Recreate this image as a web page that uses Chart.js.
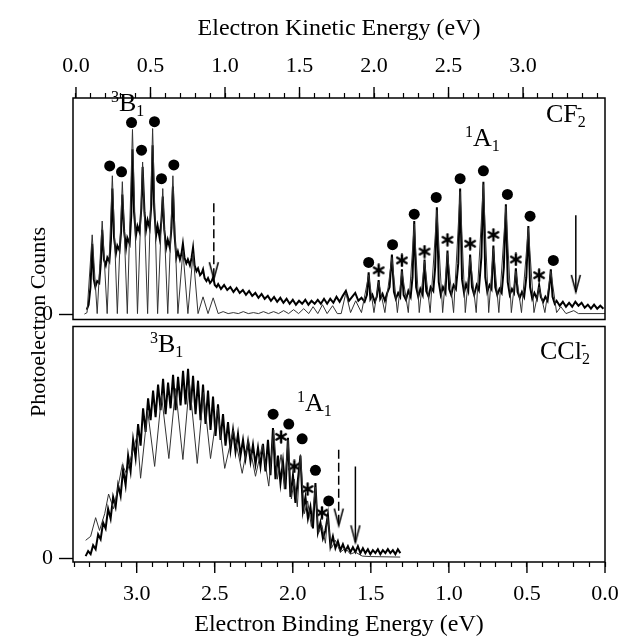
<!DOCTYPE html>
<html>
<head>
<meta charset="utf-8">
<title>CF2- and CCl2- photoelectron spectra</title>
<script src="https://cdn.jsdelivr.net/npm/chart.js@4/dist/chart.umd.min.js"></script>
<style>
  body { margin: 0; background: #fff; }
  #fig { position: relative; width: 618px; height: 639px; overflow: hidden;
         font-family: "Liberation Serif", "Times New Roman", serif; color: #000; }
  #fig canvas { position: absolute; left: 0; }
  #cf2 { top: 0; }
  #ccl2 { top: 321px; }
  .note { position: absolute; font-size: 26px; line-height: 1; white-space: nowrap; }
  .note sup, .note sub { font-size: 16px; line-height: 0; }
  .note sup { vertical-align: 9px; }
  .note sub { vertical-align: -5px; }
  .note .ion { margin-left: -9px; }
  #ytitle { position: absolute; left: -92px; top: 309px; width: 260px; height: 26px;
            line-height: 26px; font-size: 22px; text-align: center; transform: rotate(-90deg); }
</style>
</head>
<body>
<div id="fig">
  <canvas id="cf2" width="618" height="325"></canvas>
  <canvas id="ccl2" width="618" height="318"></canvas>
  <div id="ytitle">Photoelectron Counts</div>
  <div class="note" style="left:111px; top:90px"><sup>3</sup>B<sub>1</sub></div>
  <div class="note" style="left:465px; top:125px"><sup>1</sup>A<sub>1</sub></div>
  <div class="note" style="left:546px; top:101px">CF<sub>2</sub><sup class="ion">-</sup></div>
  <div class="note" style="left:150px; top:331px"><sup>3</sup>B<sub>1</sub></div>
  <div class="note" style="left:297px; top:390px"><sup>1</sup>A<sub>1</sub></div>
  <div class="note" style="left:540px; top:338px">CCl<sub>2</sub><sup class="ion">-</sup></div>
</div>
<script>
// axis ticks
const keTicks = [0.0, 0.1, 0.2, 0.3, 0.4, 0.5, 0.6, 0.7, 0.8, 0.9, 1.0, 1.1, 1.2, 1.3, 1.4, 1.5, 1.6, 1.7,
  1.8, 1.9, 2.0, 2.1, 2.2, 2.3, 2.4, 2.5, 2.6, 2.7, 2.8, 2.9, 3.0, 3.1, 3.2, 3.3, 3.4, 3.5];
const keLabels = ['0.0', '0.5', '1.0', '1.5', '2.0', '2.5', '3.0'];
const beTicks = [0.0, 0.1, 0.2, 0.3, 0.4, 0.5, 0.6, 0.7, 0.8, 0.9, 1.0, 1.1, 1.2, 1.3, 1.4, 1.5, 1.6, 1.7,
  1.8, 1.9, 2.0, 2.1, 2.2, 2.3, 2.4, 2.5, 2.6, 2.7, 2.8, 2.9, 3.0, 3.1, 3.2, 3.3, 3.4];
const beLabels = ['0.0', '0.5', '1.0', '1.5', '2.0', '2.5', '3.0'];

// CF2- panel: [binding energy (eV), counts]
const cf2Thin = [
  [3.335, 0.5], [3.318, 2], [3.285, 81], [3.253, 1], [3.221, 95], [3.189, 1], [3.156, 141], [3.124, 1],
  [3.092, 135], [3.060, 1], [3.027, 188], [2.995, 1], [2.962, 155], [2.930, 1], [2.898, 189], [2.866, 1],
  [2.833, 128], [2.801, 1], [2.768, 141], [2.736, 1], [2.704, 65], [2.672, 1], [2.639, 62], [2.607, 1],
  [2.575, 18], [2.543, 1], [2.510, 17], [2.478, 1], [2.446, 3], [2.414, 1], [2.381, 2], [2.349, 1],
  [2.317, 3], [2.285, 1], [2.252, 2], [2.220, 1], [2.188, 3], [2.156, 1], [2.123, 3], [2.091, 1],
  [2.059, 4], [2.027, 1], [1.995, 5], [1.963, 1], [1.930, 6], [1.898, 1], [1.870, 8], [1.840, 1],
  [1.810, 10], [1.780, 1], [1.745, 9], [1.715, 1], [1.690, 1], [1.660, 22], [1.630, 2], [1.597, 14],
  [1.560, 2], [1.514, 40], [1.480, 2], [1.450, 33], [1.410, 2], [1.365, 58], [1.330, 2], [1.301, 44],
  [1.260, 2], [1.222, 92], [1.190, 2], [1.156, 54], [1.120, 2], [1.077, 106], [1.040, 2], [1.009, 62],
  [0.970, 2], [0.928, 125], [0.895, 2], [0.864, 58], [0.825, 2], [0.779, 132], [0.745, 2], [0.715, 67],
  [0.680, 2], [0.635, 110], [0.600, 2], [0.571, 44], [0.535, 2], [0.491, 88], [0.455, 2], [0.422, 28],
  [0.385, 2], [0.347, 44], [0.310, 2], [0.283, 8], [0.250, 1], [0.200, 4], [0.170, 1], [0.000, 1]
];
const cf2Thick = [
  [3.320, 5], [3.308, 10], [3.296, 28], [3.285, 72], [3.275, 36], [3.265, 28], [3.253, 34], [3.240, 32],
  [3.230, 52], [3.221, 86], [3.210, 56], [3.198, 50], [3.188, 58], [3.175, 54], [3.165, 75], [3.156, 128],
  [3.145, 78], [3.133, 62], [3.124, 70], [3.110, 65], [3.100, 84], [3.092, 122], [3.080, 84], [3.068, 68],
  [3.060, 78], [3.045, 72], [3.035, 100], [3.027, 168], [3.017, 104], [3.005, 80], [2.995, 90], [2.982, 84],
  [2.970, 108], [2.962, 150], [2.950, 104], [2.940, 86], [2.930, 96], [2.917, 88], [2.906, 112], [2.898, 172],
  [2.888, 108], [2.876, 80], [2.866, 90], [2.853, 78], [2.842, 95], [2.833, 120], [2.823, 86], [2.811, 68],
  [2.801, 76], [2.788, 68], [2.777, 88], [2.768, 130], [2.758, 82], [2.746, 58], [2.736, 64], [2.723, 56],
  [2.713, 62], [2.704, 72], [2.694, 58], [2.682, 52], [2.672, 56], [2.659, 50], [2.648, 58], [2.639, 68],
  [2.629, 50], [2.617, 44], [2.607, 47], [2.594, 40], [2.584, 42], [2.575, 46], [2.565, 37], [2.553, 34],
  [2.543, 37], [2.530, 32], [2.520, 34], [2.510, 38], [2.500, 30], [2.488, 28], [2.478, 31],
  [2.46, 26], [2.44, 30], [2.42, 25], [2.40, 28], [2.38, 23], [2.36, 27], [2.34, 22], [2.32, 25],
  [2.30, 20], [2.28, 24], [2.26, 19], [2.24, 22], [2.22, 17], [2.20, 21], [2.18, 16], [2.16, 19],
  [2.14, 14], [2.12, 18], [2.10, 13], [2.08, 17], [2.06, 12], [2.04, 16], [2.02, 11], [2.00, 15],
  [1.98, 10], [1.96, 14], [1.94, 11], [1.92, 15], [1.90, 10], [1.88, 14], [1.86, 11], [1.84, 15],
  [1.82, 11], [1.80, 16], [1.78, 11], [1.76, 16], [1.74, 12], [1.72, 18], [1.70, 13], [1.68, 19],
  [1.66, 24], [1.64, 14], [1.62, 18], [1.60, 22], [1.58, 14], [1.56, 17],
  [1.540, 13], [1.525, 20], [1.514, 43], [1.503, 16], [1.490, 20], [1.475, 13], [1.462, 18], [1.450, 35],
  [1.440, 16], [1.425, 21], [1.410, 14], [1.395, 22], [1.380, 28], [1.365, 61], [1.352, 23], [1.340, 16],
  [1.325, 22], [1.312, 18], [1.301, 46], [1.290, 20], [1.275, 15], [1.260, 24], [1.245, 18], [1.233, 38],
  [1.222, 95], [1.210, 28], [1.196, 18], [1.183, 26], [1.168, 20], [1.156, 56], [1.145, 24], [1.130, 18],
  [1.117, 28], [1.100, 24], [1.088, 48], [1.077, 109], [1.065, 33], [1.052, 20], [1.038, 28], [1.022, 22],
  [1.009, 65], [0.998, 26], [0.985, 20], [0.970, 30], [0.955, 26], [0.940, 52], [0.928, 128], [0.916, 36],
  [0.903, 22], [0.890, 31], [0.876, 24], [0.864, 61], [0.852, 28], [0.838, 20], [0.822, 30], [0.808, 25],
  [0.792, 58], [0.779, 135], [0.767, 38], [0.754, 23], [0.740, 30], [0.727, 26], [0.715, 70], [0.703, 28],
  [0.690, 20], [0.676, 26], [0.662, 22], [0.648, 48], [0.635, 112], [0.623, 33], [0.610, 20], [0.596, 26],
  [0.583, 22], [0.571, 47], [0.560, 23], [0.546, 17], [0.532, 23], [0.518, 18], [0.504, 38], [0.491, 90],
  [0.480, 28], [0.466, 16], [0.452, 22], [0.436, 16], [0.422, 30], [0.411, 18], [0.396, 13], [0.382, 18],
  [0.368, 14], [0.357, 28], [0.347, 46], [0.336, 18], [0.322, 11],
  [0.31, 14], [0.29, 9], [0.27, 13], [0.25, 8], [0.23, 12], [0.21, 8], [0.19, 13], [0.17, 9],
  [0.15, 12], [0.13, 7], [0.11, 10], [0.09, 6], [0.07, 10], [0.05, 6], [0.03, 9], [0.01, 6]
];
const cf2Dots = [
  [3.173, 151], [3.097, 145], [3.033, 195], [2.969, 167], [2.886, 196], [2.841, 138], [2.762, 152],
  [1.514, 53], [1.361, 71], [1.222, 102], [1.081, 119], [0.928, 138], [0.779, 146], [0.625, 122],
  [0.480, 100], [0.331, 55]
];
const cf2Stars = [[1.450, 45], [1.301, 55], [1.156, 64], [1.009, 76], [0.864, 72], [0.715, 81], [0.571, 56], [0.422, 40]];
const cf2DashArrow = [[2.506, 113], [2.506, 36]];
const cf2Arrow = [[0.187, 101], [0.187, 23]];

// CCl2- panel
const cclThin = [
  [3.327, 18], [3.295, 22], [3.263, 41], [3.238, 28], [3.205, 45], [3.180, 65], [3.148, 50], [3.122, 70],
  [3.092, 95], [3.064, 85], [3.032, 105], [2.996, 125], [2.975, 81], [2.930, 150], [2.885, 93], [2.841, 165],
  [2.794, 101], [2.751, 172], [2.704, 100], [2.662, 178], [2.612, 96], [2.572, 168], [2.527, 101], [2.482, 152],
  [2.436, 91], [2.380, 130], [2.324, 86], [2.284, 120], [2.239, 83], [2.195, 115], [2.154, 73], [2.122, 130],
  [2.099, 80], [2.075, 105], [2.054, 70], [2.030, 120], [2.009, 60], [1.990, 80], [1.971, 52], [1.951, 105],
  [1.926, 45], [1.905, 58], [1.881, 32], [1.855, 72], [1.836, 25], [1.813, 33], [1.791, 15], [1.777, 42],
  [1.753, 10], [1.727, 18], [1.695, 6], [1.663, 10], [1.631, 4], [1.599, 6], [1.555, 2], [1.503, 1.5], [1.312, 1]
];
const cclThick = [
  [3.327, 2], [3.311, 7], [3.295, 4], [3.279, 13], [3.263, 9], [3.247, 24], [3.231, 19], [3.215, 36],
  [3.199, 30], [3.183, 50], [3.167, 40], [3.151, 62], [3.135, 52], [3.119, 74], [3.103, 63], [3.087, 90],
  [3.071, 74], [3.055, 104], [3.039, 88], [3.023, 120], [3.007, 102], [2.991, 136], [2.975, 114], [2.959, 152],
  [2.943, 128], [2.927, 162], [2.911, 140], [2.895, 170], [2.879, 143], [2.863, 176], [2.847, 150], [2.831, 182],
  [2.815, 146], [2.799, 178], [2.783, 152], [2.767, 186], [2.751, 150], [2.735, 184], [2.719, 155], [2.703, 190],
  [2.687, 156], [2.671, 192], [2.655, 150], [2.639, 185], [2.623, 146], [2.607, 180], [2.591, 140], [2.575, 176],
  [2.559, 136], [2.543, 170], [2.527, 130], [2.511, 164], [2.495, 124], [2.479, 156], [2.463, 120], [2.447, 146],
  [2.431, 114], [2.415, 138], [2.399, 110], [2.383, 130], [2.367, 108], [2.351, 126], [2.335, 104], [2.319, 120],
  [2.303, 101], [2.287, 118], [2.271, 98], [2.255, 115], [2.239, 95], [2.223, 112], [2.207, 93], [2.191, 116],
  [2.175, 88], [2.159, 120], [2.143, 84], [2.127, 132], [2.111, 80], [2.095, 104], [2.079, 76], [2.063, 98],
  [2.047, 70], [2.031, 122], [2.015, 62], [1.999, 84], [1.983, 56], [1.967, 80], [1.951, 104], [1.935, 48],
  [1.919, 62], [1.903, 40], [1.887, 52], [1.871, 30], [1.855, 76], [1.839, 26], [1.823, 36], [1.807, 20],
  [1.791, 28], [1.775, 44], [1.759, 12], [1.743, 22], [1.727, 10], [1.711, 17], [1.695, 8], [1.679, 14],
  [1.663, 7], [1.647, 12], [1.631, 6], [1.615, 11], [1.599, 6], [1.583, 12], [1.567, 5], [1.551, 10],
  [1.535, 5], [1.519, 9], [1.503, 4], [1.487, 8], [1.471, 5], [1.455, 9], [1.439, 4], [1.423, 8],
  [1.407, 5], [1.391, 9], [1.375, 5], [1.359, 8], [1.343, 4], [1.327, 9], [1.311, 5]
];
const cclDots = [[2.126, 146], [2.026, 136], [1.940, 121], [1.855, 89], [1.770, 58]];
const cclStars = [[2.075, 123], [1.990, 93], [1.905, 70], [1.813, 46]];
const cclDashArrow = [[1.706, 110], [1.706, 33]];
const cclArrow = [[1.599, 93], [1.599, 16]];

const serif = '"Liberation Serif", "Times New Roman", serif';

function asteriskImage() {
  const c = document.createElement('canvas');
  c.width = 14; c.height = 14;
  const g = c.getContext('2d');
  g.strokeStyle = '#000'; g.lineWidth = 2.4; g.lineCap = 'round';
  g.translate(7, 7);
  for (let k = 0; k < 3; k++) {
    g.beginPath(); g.moveTo(0, -5.5); g.lineTo(0, 5.5); g.stroke();
    g.rotate(Math.PI / 3);
  }
  return c;
}

function arrowHeadImage() {
  // tip sits at the centre of the image
  const c = document.createElement('canvas');
  c.width = 12; c.height = 40;
  const g = c.getContext('2d');
  g.strokeStyle = '#000'; g.lineWidth = 1.5;
  g.beginPath(); g.moveTo(1.5, 3); g.lineTo(6, 20); g.lineTo(10.5, 3); g.stroke();
  return c;
}

const starImg = asteriskImage();
const headImg = arrowHeadImage();

const toXY = pts => pts.map(([x, y]) => ({ x, y }));

function labelFor(labels, v) {
  const l = labels.find(t => Math.abs(Number(t) - v) < 1e-6);
  return l === undefined ? '' : l;
}

// frame round the plot area and the long (major) ticks
const frameTicks = {
  id: 'frameTicks',
  afterDraw(chart, args, opts) {
    const { ctx, chartArea: a } = chart;
    ctx.save();
    ctx.strokeStyle = '#000';
    ctx.lineWidth = 1.5;
    ctx.strokeRect(a.left, a.top, a.right - a.left, a.bottom - a.top);
    const scale = chart.scales[opts.axis];
    ctx.lineWidth = 1.4;
    opts.values.forEach(v => {
      const x = scale.getPixelForValue(v);
      const y0 = opts.side === 'top' ? a.top : a.bottom;
      const y1 = opts.side === 'top' ? a.top - opts.length : a.bottom + opts.length;
      ctx.beginPath(); ctx.moveTo(x, y0); ctx.lineTo(x, y1); ctx.stroke();
    });
    ctx.restore();
  }
};

function countAxis(min, max) {
  return {
    type: 'linear', position: 'left', min: min, max: max,
    afterFit: s => { s.width = 73; s.paddingTop = 0; s.paddingBottom = 0; },
    afterBuildTicks: s => { s.ticks = [{ value: 0 }]; },
    ticks: { callback: () => '0', font: { family: serif, size: 22 }, color: '#000', padding: 6 },
    grid: { drawOnChartArea: false, drawTicks: true, tickLength: 14, tickWidth: 1.4, tickColor: '#000' },
    border: { display: false }
  };
}

function energyAxis(cfg) {
  return {
    type: 'linear', axis: 'x', position: cfg.position, reverse: cfg.reverse, min: cfg.min, max: cfg.max,
    display: cfg.display,
    afterBuildTicks: s => { s.ticks = cfg.ticks.map(v => ({ value: v })); },
    afterFit: s => { s.height = cfg.height; s.paddingLeft = 0; s.paddingRight = 0; },
    ticks: {
      autoSkip: false, maxRotation: 0, padding: 14, color: '#000',
      font: { family: serif, size: 22 },
      callback: v => labelFor(cfg.labels, v)
    },
    grid: { drawOnChartArea: false, drawTicks: true, tickLength: 5, tickWidth: 1.2, tickColor: '#000' },
    border: { display: false },
    title: { display: !!cfg.title, text: cfg.title, color: '#000', font: { family: serif, size: 24 }, padding: cfg.titlePad }
  };
}

function trace(data, width, color) {
  return { data: toXY(data), xAxisID: 'be', yAxisID: 'y', borderColor: color, borderWidth: width,
           pointRadius: 0, tension: 0, fill: false };
}
function markers(data, style, r) {
  return { data: toXY(data), xAxisID: 'be', yAxisID: 'y', showLine: false, pointStyle: style,
           pointRadius: r, pointBackgroundColor: '#000', pointBorderColor: '#000', pointBorderWidth: 0 };
}
function arrow(data, dashed) {
  return { data: toXY(data), xAxisID: 'be', yAxisID: 'y', borderColor: '#000', borderWidth: 1.5,
           borderDash: dashed ? [9, 4] : [], pointStyle: headImg,
           pointRadius: c => (c.dataIndex === 1 ? 4 : 0) };
}

const common = {
  responsive: false, animation: false, events: [],
  plugins: { legend: { display: false }, tooltip: { enabled: false } }
};

new Chart(document.getElementById('cf2'), {
  type: 'line',
  data: {
    datasets: [
      trace(cf2Thin, 1, '#333'),
      trace(cf2Thick, 2, '#000'),
      markers(cf2Dots, 'circle', 5.5),
      markers(cf2Stars, starImg, 5),
      arrow(cf2DashArrow, true),
      arrow(cf2Arrow, false)
    ]
  },
  options: Object.assign({}, common, {
    layout: { padding: { left: 0, right: 13, top: 0, bottom: 2 } },
    plugins: Object.assign({}, common.plugins, {
      frameTicks: { axis: 'ke', side: 'top', values: keLabels.map(Number), length: 11 }
    }),
    scales: {
      ke: energyAxis({ position: 'top', reverse: false, min: -0.02, max: 3.55, display: true, height: 98,
                       ticks: keTicks, labels: keLabels, title: 'Electron Kinetic Energy (eV)',
                       titlePad: { top: 14, bottom: 0 } }),
      be: energyAxis({ position: 'bottom', reverse: true, min: 0, max: 3.408, display: false, height: 0,
                       ticks: beTicks, labels: beLabels }),
      y: countAxis(-5, 220)
    }
  }),
  plugins: [frameTicks]
});

new Chart(document.getElementById('ccl2'), {
  type: 'line',
  data: {
    datasets: [
      trace(cclThin, 1, '#333'),
      trace(cclThick, 2, '#000'),
      markers(cclDots, 'circle', 5.5),
      markers(cclStars, starImg, 5),
      arrow(cclDashArrow, true),
      arrow(cclArrow, false)
    ]
  },
  options: Object.assign({}, common, {
    layout: { padding: { left: 0, right: 13, top: 2, bottom: 0 } },
    plugins: Object.assign({}, common.plugins, {
      frameTicks: { axis: 'be', side: 'bottom', values: beLabels.map(Number), length: 11 }
    }),
    scales: {
      be: energyAxis({ position: 'bottom', reverse: true, min: 0, max: 3.408, display: true, height: 77,
                       ticks: beTicks, labels: beLabels, title: 'Electron Binding Energy (eV)',
                       titlePad: { top: 0, bottom: 0 } }),
      y: countAxis(-4, 235)
    }
  }),
  plugins: [frameTicks]
});
</script>
</body>
</html>
